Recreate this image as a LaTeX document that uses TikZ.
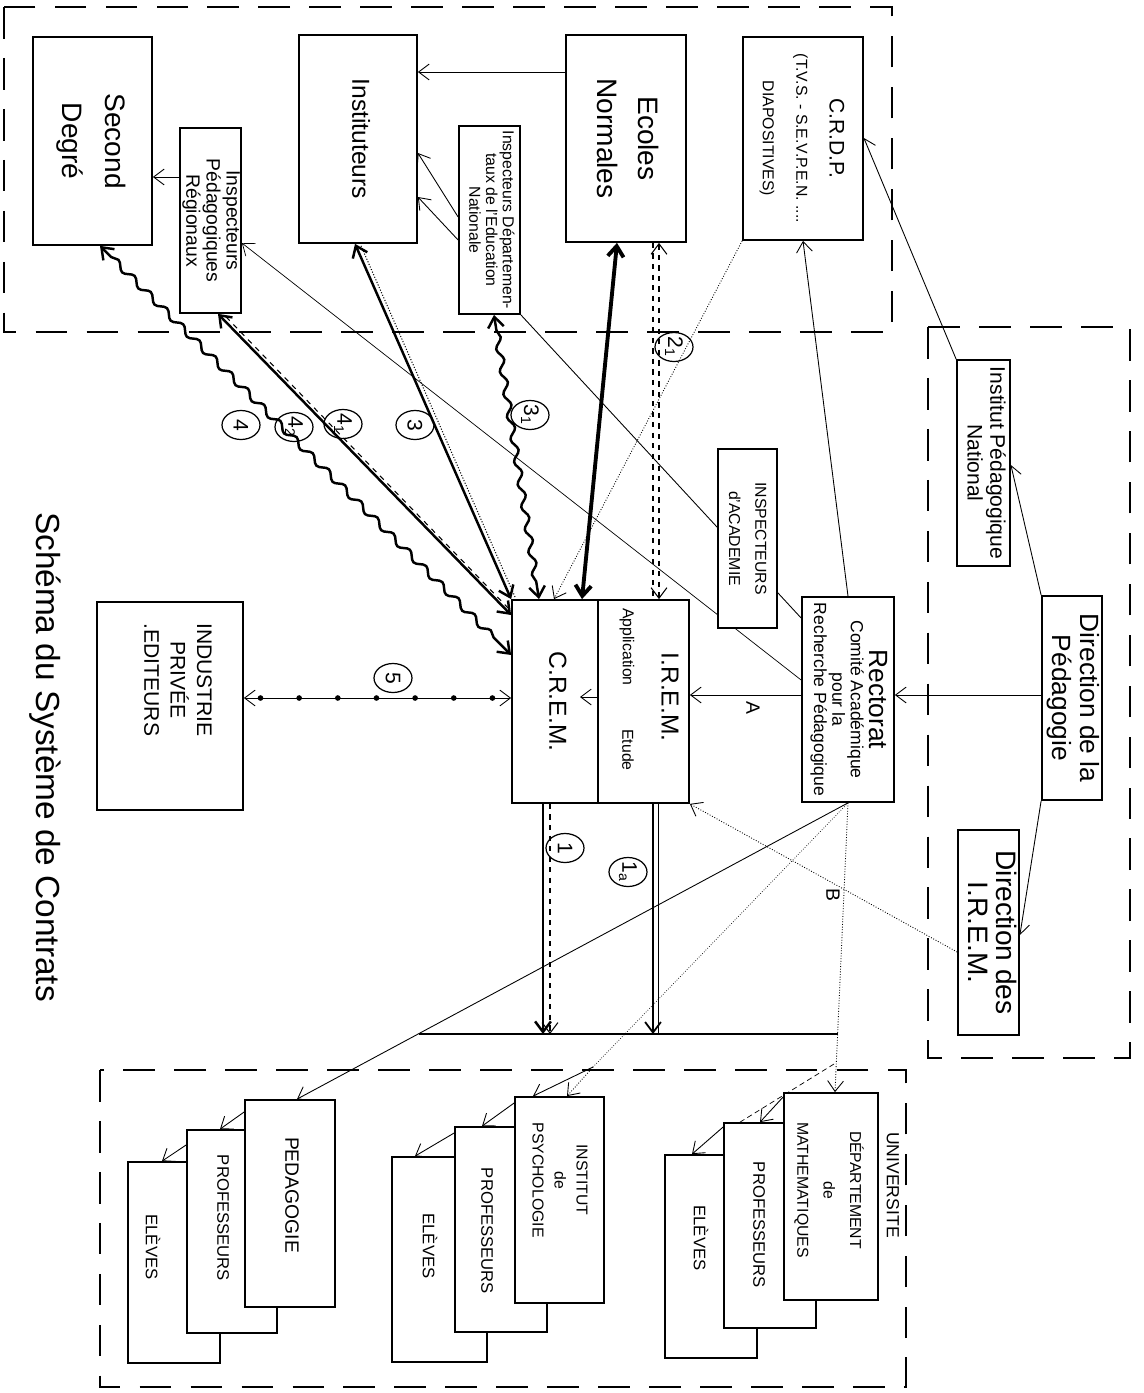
\documentclass[tikz,border=0pt]{standalone}
\usepackage{fontspec}
\setmainfont{Liberation Sans}
\usepackage{graphicx}
\usetikzlibrary{calc,arrows.meta,decorations.pathmorphing,decorations.markings,shapes.geometric,backgrounds}

\newcommand{\vtext}[1]{\rotatebox{-90}{\begin{tabular}{@{}c@{}}#1\end{tabular}}}
\newcommand{\fs}[2]{\fontsize{#1}{#2}\selectfont}

\tikzset{
  box/.style={draw, line width=1pt, fill=white, inner sep=0pt},
  sz/.style 2 args={minimum width=#1*0.02cm, minimum height=#2*0.02cm},
  zone/.style={line width=1pt, dash pattern=on 18pt off 11pt},
  arr/.style={->, line width=0.5pt},
  heavy/.style={line width=1.4pt},
  wavy/.style={<->, line width=1.4pt, decorate,
    decoration={snake, amplitude=1.8pt, segment length=13pt, pre length=9pt, post length=9pt}},
  dotline/.style={<->, line width=0.5pt, postaction={decorate, decoration={markings,
    mark=between positions 0.07 and 0.95 step 22pt with {\fill (0,0) circle (1.6pt);}}}},
  num/.style={draw, ellipse, rotate=-90, line width=0.7pt, inner sep=0pt,
    minimum width=0.58cm, minimum height=0.76cm, font=\fs{12}{13}},
  vlab/.style={rotate=-90, inner sep=1pt}
}

\begin{document}
\begin{tikzpicture}[x=0.02cm, y=-0.02cm, >={Straight Barb[length=6pt,width=9pt]}]
\useasboundingbox (0,0) rectangle (1143,1393);

% zones
\draw[zone] (4,7) rectangle (892,332);
\draw[zone] (928,327) rectangle (1130,1058);
\draw[zone] (100,1070) rectangle (906,1387);

\node[vlab, font=\fs{19}{22}] (titre) at (45,757) {Schéma du Système de Contrats};

% zone haute
\node[box, sz={119}{208}, font=\fs{16}{24}] (sd) at (92.5,141) {\vtext{Second\\Degré}};
\node[box, sz={61}{185}, font=\fs{11}{11.2}] (ipr) at (210.5,220.5) {\vtext{Inspecteurs\\Pédagogiques\\Régionaux}};
\node[box, sz={118}{208}, font=\fs{14}{16}] (inst) at (358,139) {\vtext{Instituteurs}};
\node[box, sz={61}{188}, font=\fs{9}{9.5}] (iden) at (489.5,220) {\vtext{Inspecteurs Départemen-\\taux de l'Education\\Nationale}};
\node[box, sz={120}{207}, font=\fs{16}{23}] (en) at (626,138.5) {\vtext{Ecoles\\Normales}};
\node[box, sz={120}{203}, font=\fs{9}{19}] (crdp) at (803,138.5) {\vtext{{\fs{12}{19}C.R.D.P.}\\(T.V.S. - S.E.V.P.E.N. ....\\DIAPOSITIVES)}};

% zone droite
\node[box, sz={53}{206}, font=\fs{12}{13}] (inp) at (983.5,463) {\vtext{Institut Pédagogique\\National}};
\node[box, sz={60}{204}, font=\fs{15}{15}] (ddp) at (1072,698) {\vtext{Direction de la\\Pédagogie}};
\node[box, sz={61}{205}, font=\fs{16}{16}] (direm) at (988.5,932.5) {\vtext{Direction des\\I.R.E.M.}};

% centre
\node[box, sz={92}{205}, font=\fs{10}{10.5}] (rect) at (848,699.5) {\vtext{{\fs{15}{16}Rectorat}\\Comité Académique\\pour la\\Recherche Pédagogique}};
\node[box, sz={59}{179}, font=\fs{9}{15}] (ida) at (747.5,538.5) {\vtext{INSPECTEURS\\d'ACADEMIE}};
\node[box, sz={86}{203}, font=\fs{14}{16}] (crem) at (555,701.5) {\vtext{C.R.E.M.}};
\node[box, sz={91}{203}] (irem) at (643.5,701.5) {};
\node[vlab, font=\fs{14}{16}] (iremt) at (670,697) {I.R.E.M.};
\node[vlab, font=\fs{9}{10}] (appl) at (627,647) {Application};
\node[vlab, font=\fs{9}{10}] (etud) at (628,750) {Etude};
\node[box, sz={146}{208}] (ind) at (170,706) {};
\node[vlab, font=\fs{12}{15}, align=center] (indt) at (178,680) {INDUSTRIE\\PRIVÉE\\.EDITEURS};

% zone basse
\node[box, sz={92}{201}] (el1) at (174,1262.5) {};
\node[box, sz={90}{203}] (pr1) at (232,1231.5) {};
\node[box, sz={90}{207}] (ped) at (290,1203.5) {};
\node[vlab, font=\fs{11}{12}] (pedt) at (292,1195) {PEDAGOGIE};
\node[vlab, font=\fs{9.5}{12}] (pr1t) at (223,1218) {PROFESSEURS};
\node[vlab, font=\fs{9.5}{12}] (el1t) at (153,1247) {ELÈVES};

\node[box, sz={95}{205}] (el2) at (439.5,1259.5) {};
\node[box, sz={92}{205}] (pr2) at (501,1229.5) {};
\node[box, sz={89}{206}] (ips) at (559.5,1200) {};
\node[vlab, font=\fs{9}{12.5}, align=center] (ipst) at (560,1180) {INSTITUT\\de\\PSYCHOLOGIE};
\node[vlab, font=\fs{9.5}{12}] (pr2t) at (487,1231) {PROFESSEURS};
\node[vlab, font=\fs{9.5}{12}] (el2t) at (430,1246) {ELÈVES};

\node[box, sz={92}{203}] (el3) at (711,1256.5) {};
\node[box, sz={92}{205}] (pr3) at (770,1225.5) {};
\node[box, sz={94}{207}] (dm) at (831,1196.5) {};
\node[vlab, font=\fs{9}{15}, align=center] (dmt) at (829,1190) {DÉPARTEMENT\\de\\MATHEMATIQUES};
\node[vlab, font=\fs{9.5}{12}] (pr3t) at (759,1225) {PROFESSEURS};
\node[vlab, font=\fs{9.5}{12}] (el3t) at (701,1238) {ELÈVES};
\node[vlab, font=\fs{10}{12}] (univ) at (893,1185) {UNIVERSITE};

% numeros des contrats
\node[num] (n4) at (241,425) {4};
\node[num] (n42) at (294,427) {4\textsubscript{2}};
\node[num] (n41) at (343,424) {4\textsubscript{1}};
\node[num] (n3) at (415,425) {3};
\node[num] (n31) at (530,415) {3\textsubscript{1}};
\node[num] (n21) at (674,347) {2\textsubscript{1}};
\node[num] (n5) at (393,678) {5};
\node[num] (n1) at (565,848) {1};
\node[num] (n1a) at (628,872) {1\textsubscript{a}};
\node[vlab, font=\fs{11}{12}] (la) at (753,708) {A};
\node[vlab, font=\fs{11}{12}] (lb) at (833,895) {B};

\coordinate (app) at (580,697);
\draw[arr] (irem.west |- 0,697) -- (app);

\begin{scope}[on background layer]
% zone haute
\draw[arr] (en.west |- 0,72) -- (inst.east |- 0,72);
\draw[arr] (ipr.west |- 0,177) -- (sd.east |- 0,177);
\draw[arr] (iden.west |- 0,217) -- (inst.east |- 0,153);
\draw[arr] (iden.west |- 0,240) -- (inst.east |- 0,197);

% institut, direction, rectorat
\draw[arr] (inp.north west) -- (crdp.east |- 0,138);
\draw[arr] (ddp.north west) -- (inp.east |- 0,465);
\draw[arr] (ddp.west |- 0,695) -- (rect.east |- 0,695);
\draw[arr] (ddp.south west) -- (direm.east |- 0,935);
\draw[arr] (rect.west |- 0,695) -- (irem.east |- 0,695);
\draw[arr, densely dotted] (direm.west |- 0,952) -- (irem.south east);
\draw[arr] (rect.north) -- (crdp.south);
\draw[arr, line width=0.4pt] (rect.west |- 0,680) -- (ipr.east |- 0,243);
\draw[line width=0.5pt] (iden.south east) -- (rect.west |- 0,618);
\draw[arr, densely dotted] (crdp.south west) -- (crem.north -| 554,0);

% contrats vers le C.R.E.M.
\draw[wavy] (sd.south -| 100,0) -- (crem.west |- 0,655);
\draw[heavy, <->] (ipr.south -| 218,0) -- (crem.west |- 0,615);
\draw[dashed, line width=0.6pt] ($(ipr.south -| 218,0)+(8,3)$) -- ($(crem.west |- 0,615)+(-3,-7)$);
\draw[heavy, <->] (inst.south -| 355,0) -- (crem.north west);
\draw[densely dotted, line width=0.6pt] ($(inst.south -| 355,0)+(6,2)$) -- ($(crem.north west)+(4,-2)$);
\draw[wavy] (iden.south -| 494,0) -- (crem.north -| 539,0);
\draw[<->, line width=2.2pt] (en.south -| 617,0) -- (crem.north -| 582,0);
\draw[dashed, line width=0.6pt] (en.south -| 653,0) -- (irem.north -| 653,0);
\draw[dashed, <->, line width=0.6pt] (en.south -| 659,0) -- (irem.north -| 659,0);
\draw[dotline] (crem.west |- 0,698) -- (ind.east |- 0,698);

% vers l'universite
\coordinate (barL) at (419,1034);
\coordinate (barR) at (838,1034);
\draw[line width=0.6pt] (barL) -- (barR);
\draw[heavy, ->] (crem.south -| 543,0) -- (barL -| 543,0);
\draw[dashed, ->, line width=0.6pt] (crem.south -| 550,0) -- (barL -| 550,0);
\draw[line width=1pt, ->] (irem.south -| 653,0) -- (barL -| 653,0);
\draw[line width=0.5pt] (irem.south -| 658,0) -- (barL -| 658,0);

\draw[arr] (rect.south) -- (ped.north -| 297,0);
\coordinate (psy0) at (593,1067);
\draw[densely dotted] (rect.south) -- (psy0);
\draw[arr, densely dotted] (psy0) -- (ips.north -| 567,0);
\draw[arr] (psy0) -- (ips.north -| 533,0);
\draw[arr, densely dotted] (rect.south) -- (dm.north -| 835,0);
\coordinate (mat0) at (834,1064);
\draw[densely dashed] (mat0) -- (pr3.north -| 740,0);

\draw[arr] (ped.west |- 0,1112) -- (pr1.north -| 220,0);
\draw[arr] (pr1.west |- 0,1145) -- (el1.north -| 162,0);
\draw[arr] (ips.west |- 0,1103) -- (pr2.north -| 482,0);
\draw[arr] (pr2.west |- 0,1133) -- (el2.north -| 415,0);
\draw[arr] (dm.west |- 0,1097) -- (pr3.north -| 760,0);
\draw[arr] (pr3.west |- 0,1127) -- (el3.north -| 692,0);
\end{scope}

\end{tikzpicture}
\end{document}
